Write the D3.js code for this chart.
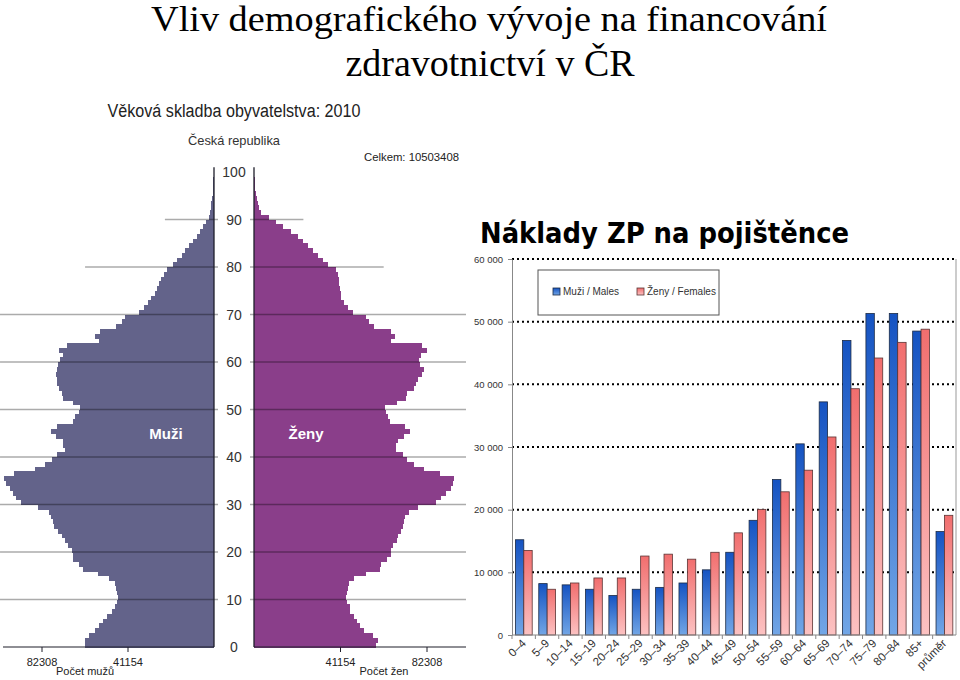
<!DOCTYPE html>
<html>
<head>
<meta charset="utf-8">
<script src="https://cdn.jsdelivr.net/npm/d3@7.9.0/dist/d3.min.js"></script>
<style>
  body { margin: 0; background: #fff; }
  svg { display: block; }
  text { font-family: "Liberation Sans", Arial, sans-serif; }
</style>
</head>
<body>
<svg id="chart" width="960" height="680"></svg>
<script>
// --- data: population pyramid 2010 (people per single year of age 0..100)
const ages = d3.range(0, 101);
const muzi = [61500, 61500, 60000, 57000, 55000, 53000, 51400, 49000, 47400, 46600,
  45800, 46600, 46900, 47400, 50100, 55700, 62500, 64400, 67300, 67600,
  68100, 69700, 71300, 72900, 74500, 76600, 76900, 78200, 78800, 84100,
  92500, 94700, 96000, 97600, 99500, 100500, 95700, 85700, 80900, 77700,
  75000, 71300, 72100, 72100, 75600, 78200, 75000, 67600, 66500, 64400,
  64100, 67600, 72100, 72900, 74300, 75000, 75300, 75600, 75300, 74500,
  73700, 72400, 74000, 70500, 55200, 57100, 54500, 46900, 44200, 42400,
  35700, 33500, 31600, 30300, 28400, 27100, 26200, 25400, 23800, 22600,
  19800, 17900, 15500, 13700, 11800, 9900, 8300, 6700, 5400, 3800,
  2600, 1900, 1500, 1200, 900, 700, 550, 380, 250, 150, 100];
const zeny = [57900, 59000, 56800, 52300, 50400, 48800, 47500, 45900, 45600, 44300,
  44000, 44300, 44700, 45100, 47500, 53100, 60000, 60300, 63500, 65100,
  65100, 65900, 67800, 68300, 69900, 70700, 71500, 71800, 73800, 77800,
  86600, 89000, 91400, 93500, 94600, 95100, 88700, 80700, 75900, 73000,
  70700, 67500, 67500, 68300, 71500, 74300, 71800, 64700, 63800, 62700,
  62200, 67800, 72300, 73000, 75900, 77000, 77800, 79700, 80700, 79100,
  78600, 79400, 82300, 79700, 65100, 67100, 65100, 57100, 54700, 53100,
  47200, 44700, 42700, 41500, 41200, 40800, 40400, 40400, 39900, 39200,
  35100, 32900, 30500, 28100, 25500, 23300, 20900, 17500, 14000, 10500,
  6900, 3200, 2600, 1900, 1300, 1000, 700, 500, 300, 200, 150];
const pocetTicks = [41154, 82308];
const vekTicks = [0, 10, 20, 30, 40, 50, 60, 70, 80, 90, 100];
const gridAges = [10, 20, 30, 40, 50, 60, 70, 80, 90];
const gridReach = [102400, 102400, 102400, 102400, 102400, 102400, 102400, 61700, 23500];

// --- data: costs of health insurance per insured person
const skupiny = ['0–4', '5–9', '10–14', '15–19', '20–24', '25–29', '30–34', '35–39', '40–44',
  '45–49', '50–54', '55–59', '60–64', '65–69', '70–74', '75–79', '80–84', '85+', 'průměr'];
const nakladyMuzi = [15200, 8200, 8000, 7300, 6300, 7300, 7600, 8300, 10400,
  13200, 18300, 24800, 30500, 37200, 47000, 51300, 51300, 48500, 16500];
const nakladyZeny = [13500, 7300, 8300, 9100, 9100, 12600, 12900, 12100, 13200,
  16300, 20050, 22850, 26300, 31600, 39300, 44200, 46700, 48800, 19100];
const nakladyTicks = [0, 10000, 20000, 30000, 40000, 50000, 60000];

const svg = d3.select('#chart');

// main title
svg.append('text').attr('x', 489).attr('y', 31).attr('text-anchor', 'middle')
  .attr('textLength', 676).attr('lengthAdjust', 'spacingAndGlyphs')
  .style('font-family', '"Liberation Serif", "Times New Roman", serif').style('font-size', '35px')
  .text('Vliv demografického vývoje na financování');
svg.append('text').attr('x', 490).attr('y', 76).attr('text-anchor', 'middle')
  .style('font-family', '"Liberation Serif", "Times New Roman", serif').style('font-size', '38px')
  .text('zdravotnictví v ČR');

// ---------- population pyramid ----------
const yAge = d3.scaleLinear().domain([0, 100]).range([647, 172]);
const xMuzi = d3.scaleLinear().domain([0, 41154]).range([214, 128]);
const xZeny = d3.scaleLinear().domain([0, 41154]).range([254, 340.5]);

const pyr = svg.append('g');

pyr.append('text').attr('x', 234).attr('y', 117).attr('text-anchor', 'middle')
  .attr('textLength', 253).attr('lengthAdjust', 'spacingAndGlyphs')
  .style('font-size', '18px').attr('fill', '#222').text('Věková skladba obyvatelstva: 2010');
pyr.append('text').attr('x', 234).attr('y', 145).attr('text-anchor', 'middle')
  .attr('textLength', 92).attr('lengthAdjust', 'spacingAndGlyphs')
  .style('font-size', '13px').attr('fill', '#333').text('Česká republika');
pyr.append('text').attr('x', 364).attr('y', 161)
  .attr('textLength', 95).attr('lengthAdjust', 'spacingAndGlyphs')
  .style('font-size', '11.5px').attr('fill', '#222').text('Celkem: 10503408');

pyr.selectAll('rect.muz').data(ages).join('rect').attr('class', 'muz')
  .attr('x', a => xMuzi(muzi[a]))
  .attr('y', a => yAge(a + 1))
  .attr('width', a => xMuzi(0) - xMuzi(muzi[a]))
  .attr('height', a => yAge(a) - yAge(a + 1) + 0.6)
  .attr('shape-rendering', 'crispEdges')
  .attr('fill', '#63638a');

pyr.selectAll('rect.zena').data(ages).join('rect').attr('class', 'zena')
  .attr('x', xZeny(0))
  .attr('y', a => yAge(a + 1))
  .attr('width', a => xZeny(zeny[a]) - xZeny(0))
  .attr('height', a => yAge(a) - yAge(a + 1) + 0.6)
  .attr('shape-rendering', 'crispEdges')
  .attr('fill', '#8a3e8a');

// grid lines drawn over the bars
gridAges.forEach((a, i) => {
  pyr.append('line')
    .attr('x1', Math.max(0, xMuzi(gridReach[i]))).attr('x2', 218)
    .attr('y1', yAge(a)).attr('y2', yAge(a))
    .attr('stroke', '#000').attr('stroke-opacity', 0.33).attr('stroke-width', 1.3);
  pyr.append('line')
    .attr('x1', 250).attr('x2', Math.min(466, xZeny(gridReach[i])))
    .attr('y1', yAge(a)).attr('y2', yAge(a))
    .attr('stroke', '#000').attr('stroke-opacity', 0.33).attr('stroke-width', 1.3);
});

// axes
[xMuzi(0), xZeny(0)].forEach(x => {
  pyr.append('line').attr('x1', x).attr('x2', x).attr('y1', yAge(101)).attr('y2', yAge(0))
    .attr('stroke', '#1e1e2a').attr('stroke-width', 1.3);
});
pyr.append('line').attr('x1', 3).attr('x2', xMuzi(0)).attr('y1', yAge(0)).attr('y2', yAge(0))
  .attr('stroke', '#1e1e2a').attr('stroke-width', 1.2);
pyr.append('line').attr('x1', xZeny(0)).attr('x2', 466).attr('y1', yAge(0)).attr('y2', yAge(0))
  .attr('stroke', '#1e1e2a').attr('stroke-width', 1.2);

pocetTicks.forEach(t => {
  [xMuzi(t), xZeny(t)].forEach(x => {
    pyr.append('line').attr('x1', x).attr('x2', x).attr('y1', yAge(0)).attr('y2', yAge(0) + 5)
      .attr('stroke', '#1e1e2a');
    pyr.append('text').attr('x', x).attr('y', 666).attr('text-anchor', 'middle')
      .style('font-size', '11px').attr('fill', '#222').text(t);
  });
});
pyr.append('text').attr('x', 85).attr('y', 675).attr('text-anchor', 'middle')
  .style('font-size', '11px').attr('fill', '#222').text('Počet mužů');
pyr.append('text').attr('x', 384).attr('y', 675).attr('text-anchor', 'middle')
  .style('font-size', '11px').attr('fill', '#222').text('Počet žen');

pyr.selectAll('text.vek').data(vekTicks).join('text').attr('class', 'vek')
  .attr('x', 234).attr('y', a => yAge(a) + 5).attr('text-anchor', 'middle')
  .style('font-size', '14px').attr('fill', '#333').text(a => a);

pyr.append('text').attr('x', 166).attr('y', 439).attr('text-anchor', 'middle')
  .style('font-size', '15px').style('font-weight', 'bold').attr('fill', '#fff').text('Muži');
pyr.append('text').attr('x', 306).attr('y', 439).attr('text-anchor', 'middle')
  .style('font-size', '15px').style('font-weight', 'bold').attr('fill', '#fff').text('Ženy');

// ---------- costs bar chart ----------
const xSk = d3.scaleBand().domain(skupiny).range([512, 956]);
const xSer = d3.scaleBand().domain(['muzi', 'zeny']).range([3.4, 20.2]);
const yN = d3.scaleLinear().domain([0, 60000]).range([635, 259]);

const defs = svg.append('defs');
[['gMuzi', '#1553c2', '#72a6e6'], ['gZeny', '#f16e6e', '#fcc2c2']].forEach(([id, c1, c2]) => {
  const g = defs.append('linearGradient').attr('id', id)
    .attr('x1', 0).attr('y1', 0).attr('x2', 0).attr('y2', 1);
  g.append('stop').attr('offset', '0%').attr('stop-color', c1);
  g.append('stop').attr('offset', '100%').attr('stop-color', c2);
});

const bc = svg.append('g');

bc.append('text').attr('x', 480).attr('y', 243)
  .attr('textLength', 369).attr('lengthAdjust', 'spacingAndGlyphs')
  .style('font-family', '"DejaVu Sans Condensed", "DejaVu Sans", sans-serif')
  .style('font-size', '28px').style('font-weight', 'bold').attr('fill', '#000')
  .text('Náklady ZP na pojištěnce');

// dotted grid lines
bc.selectAll('line.grid').data(nakladyTicks.slice(1)).join('line').attr('class', 'grid')
  .attr('x1', 512).attr('x2', 956).attr('y1', d => yN(d)).attr('y2', d => yN(d))
  .attr('stroke', '#000').attr('stroke-width', 2).attr('stroke-dasharray', '2 3');
bc.append('line').attr('x1', 956).attr('x2', 956).attr('y1', yN(60000)).attr('y2', yN(0))
  .attr('stroke', '#999');

const grp = bc.selectAll('g.sk').data(skupiny).join('g').attr('class', 'sk')
  .attr('transform', d => `translate(${xSk(d)},0)`);
grp.append('rect')
  .attr('x', xSer('muzi')).attr('width', xSer.bandwidth())
  .attr('y', (d, i) => yN(nakladyMuzi[i])).attr('height', (d, i) => yN(0) - yN(nakladyMuzi[i]))
  .attr('fill', 'url(#gMuzi)').attr('stroke', '#1b2a44').attr('stroke-width', 0.8);
grp.append('rect')
  .attr('x', xSer('zeny')).attr('width', xSer.bandwidth())
  .attr('y', (d, i) => yN(nakladyZeny[i])).attr('height', (d, i) => yN(0) - yN(nakladyZeny[i]))
  .attr('fill', 'url(#gZeny)').attr('stroke', '#5a3434').attr('stroke-width', 0.8);

// y axis
const yAxis = bc.append('g').attr('transform', 'translate(512,0)')
  .call(d3.axisLeft(yN).tickValues(nakladyTicks).tickSize(4).tickSizeOuter(0).tickPadding(5)
    .tickFormat(d => d3.format(',')(d).replace(/,/g, ' ')));
yAxis.select('.domain').attr('stroke', '#888');
yAxis.selectAll('.tick line').attr('stroke', '#888');
yAxis.selectAll('.tick text').style('font-size', '9.5px').attr('fill', '#333');

// x axis
bc.append('line').attr('x1', 512).attr('x2', 956).attr('y1', yN(0)).attr('y2', yN(0)).attr('stroke', '#888');
bc.selectAll('line.xtick').data(skupiny).join('line').attr('class', 'xtick')
  .attr('x1', d => xSk(d)).attr('x2', d => xSk(d)).attr('y1', yN(0)).attr('y2', yN(0) + 4)
  .attr('stroke', '#888');
bc.selectAll('text.xlab').data(skupiny).join('text').attr('class', 'xlab')
  .attr('text-anchor', 'end')
  .attr('transform', d => `translate(${xSk(d) + xSk.bandwidth() / 2 + 3},${yN(0) + 9}) rotate(-45)`)
  .style('font-size', '11.5px').attr('fill', '#333').text(d => d);

// legend
const lg = bc.append('g');
lg.append('rect').attr('x', 538).attr('y', 270).attr('width', 181).attr('height', 45)
  .attr('fill', '#fff').attr('stroke', '#555');
[['Muži / Males', 'url(#gMuzi)', '#1b2a44', 553], ['Ženy / Females', 'url(#gZeny)', '#5a3434', 637]]
  .forEach(([t, f, s, x]) => {
    lg.append('rect').attr('x', x).attr('y', 288).attr('width', 7).attr('height', 7)
      .attr('fill', f).attr('stroke', s).attr('stroke-width', 0.8);
    lg.append('text').attr('x', x + 10).attr('y', 295).style('font-size', '10px')
      .attr('fill', '#333').text(t);
  });
</script>
</body>
</html>
